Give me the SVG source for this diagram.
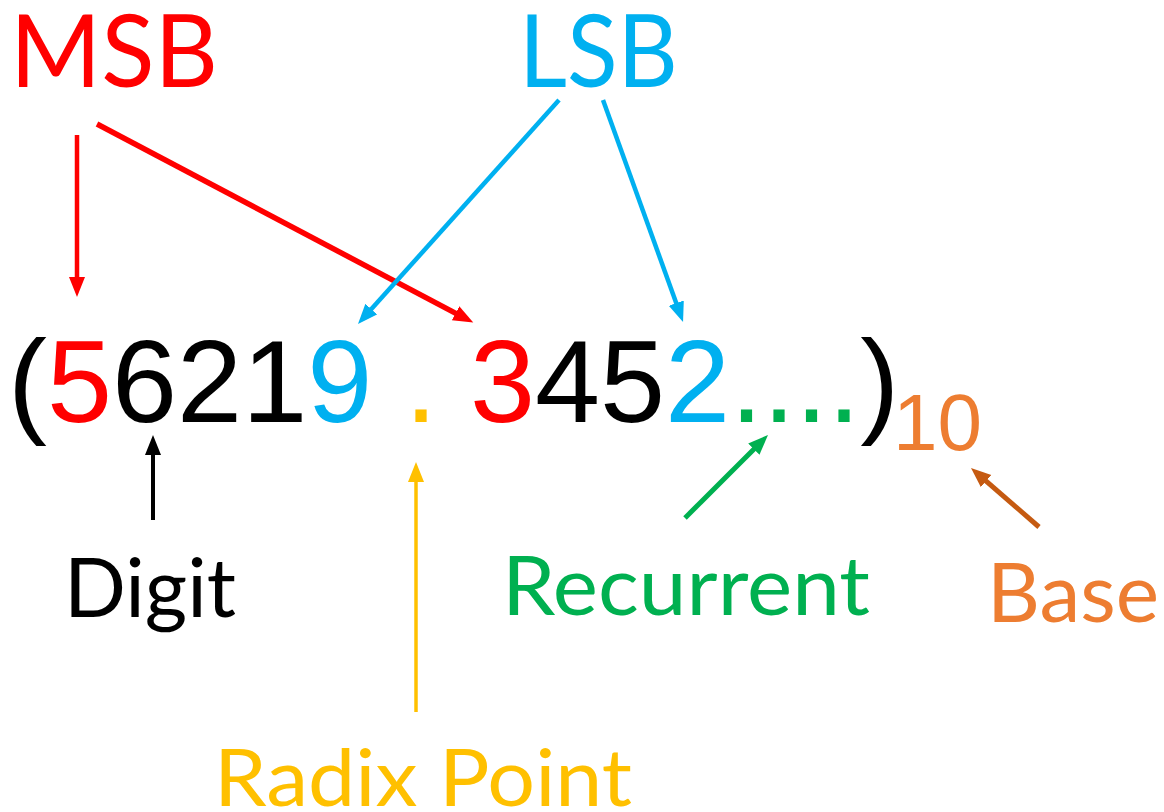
<svg xmlns="http://www.w3.org/2000/svg" width="1164" height="812" viewBox="0 0 1164 812">
<style>
.lbl{font-family:Lato,"Open Sans","Liberation Sans",sans-serif;}
.num{font-family:"Liberation Sans",Arial,sans-serif;}
.c{fill:none;stroke-linecap:butt;}
</style>
<defs>
<marker id="aRed" markerUnits="userSpaceOnUse" markerWidth="22" markerHeight="18" refX="11" refY="8" orient="auto"><path d="M0,0 L20,8 L0,16 z" fill="#FF0000"/></marker>
<marker id="aBlue" markerUnits="userSpaceOnUse" markerWidth="22" markerHeight="18" refX="11" refY="8" orient="auto"><path d="M0,0 L20,8 L0,16 z" fill="#00B0F0"/></marker>
<marker id="aBlack" markerUnits="userSpaceOnUse" markerWidth="22" markerHeight="18" refX="11" refY="8" orient="auto"><path d="M0,0 L20,8 L0,16 z" fill="#000000"/></marker>
<marker id="aYellow" markerUnits="userSpaceOnUse" markerWidth="22" markerHeight="18" refX="11" refY="8" orient="auto"><path d="M0,0 L20,8 L0,16 z" fill="#FFC000"/></marker>
<marker id="aGreen" markerUnits="userSpaceOnUse" markerWidth="22" markerHeight="18" refX="11" refY="8" orient="auto"><path d="M0,0 L20,8 L0,16 z" fill="#00B050"/></marker>
<marker id="aBrown" markerUnits="userSpaceOnUse" markerWidth="22" markerHeight="18" refX="11" refY="8" orient="auto"><path d="M0,0 L20,8 L0,16 z" fill="#C55A11"/></marker>
</defs>
<rect width="1164" height="812" fill="#FFFFFF"/>
<g id="msb"><text class="lbl" x="10" y="87" font-size="100" fill="#FF0000" textLength="208" lengthAdjust="spacingAndGlyphs">MSB</text></g>
<g id="lsb"><text class="lbl" x="519" y="87" font-size="100" fill="#00B0F0" textLength="159" lengthAdjust="spacingAndGlyphs">LSB</text></g>
<g id="number"><text class="num" x="8" y="422" font-size="117" fill="#000000">(<tspan fill="#FF0000">5</tspan>621<tspan fill="#00B0F0">9</tspan> <tspan fill="#FFC000">.</tspan> <tspan fill="#FF0000">3</tspan>45<tspan fill="#00B0F0">2</tspan><tspan fill="#00B050">....</tspan>)</text></g>
<g id="base10"><text class="num" x="893" y="450" font-size="80" fill="#ED7D31">10</text></g>
<g id="digit"><text class="lbl" x="64" y="617" font-size="81" fill="#000000" textLength="172" lengthAdjust="spacingAndGlyphs">Digit</text></g>
<g id="recurrent"><text class="lbl" x="502" y="615" font-size="81" fill="#00B050" textLength="368" lengthAdjust="spacingAndGlyphs">Recurrent</text></g>
<g id="base"><text class="lbl" x="987" y="622" font-size="81" fill="#ED7D31" textLength="172" lengthAdjust="spacingAndGlyphs">Base</text></g>
<g id="radix"><text class="lbl" x="214" y="806" font-size="80" fill="#FFC000" textLength="418" lengthAdjust="spacingAndGlyphs">Radix Point</text></g>
<g id="connectors">
<line class="c" x1="77" y1="135" x2="77" y2="288" stroke="#FF0000" stroke-width="4.5" marker-end="url(#aRed)"/>
<line class="c" x1="97" y1="124" x2="465.3" y2="318.4" stroke="#FF0000" stroke-width="5.5" marker-end="url(#aRed)"/>
<line class="c" x1="559" y1="100" x2="364" y2="317.3" stroke="#00B0F0" stroke-width="4.5" marker-end="url(#aBlue)"/>
<line class="c" x1="603" y1="100" x2="680" y2="313.5" stroke="#00B0F0" stroke-width="4.5" marker-end="url(#aBlue)"/>
<line class="c" x1="153" y1="520" x2="153" y2="444" stroke="#000000" stroke-width="4" marker-end="url(#aBlack)"/>
<line class="c" x1="416" y1="712" x2="416" y2="471" stroke="#FFC000" stroke-width="3.5" marker-end="url(#aYellow)"/>
<line class="c" x1="685" y1="518" x2="761.6" y2="441.4" stroke="#00B050" stroke-width="5" marker-end="url(#aGreen)"/>
<line class="c" x1="1039" y1="527" x2="977.8" y2="473.9" stroke="#C55A11" stroke-width="5" marker-end="url(#aBrown)"/>
</g>
</svg>
